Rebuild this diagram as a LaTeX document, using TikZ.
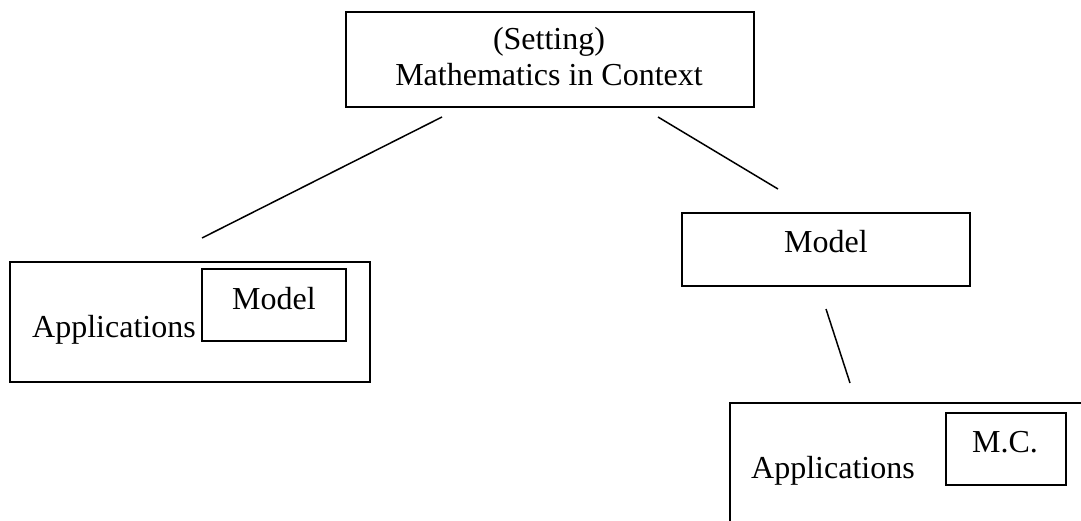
\documentclass[tikz,border=0pt]{standalone}
\usepackage{fontspec}
\setmainfont{Liberation Serif}
\begin{document}
\begin{tikzpicture}[x=1pt,y=-1pt,
  boxline/.style={draw=black,line width=1.6pt},
  conn/.style={draw=black,line width=1.5pt},
  lbl/.style={inner sep=0pt,anchor=base,font=\fontsize{32}{36}\selectfont}]
\useasboundingbox (0,0) rectangle (1081,521);
\clip (0,0) rectangle (1081,521);
% boxes
\draw[boxline] (346,12) rectangle (754,107);
\draw[boxline] (10,262) rectangle (370,382);
\draw[boxline] (202,269) rectangle (346,341);
\draw[boxline] (682,213) rectangle (970,286);
\draw[boxline] (730,403) rectangle (1100,560);
\draw[boxline] (946,413) rectangle (1066,485);
% labels
\node[lbl] (setting) at (549,50) {(Setting)};
\node[lbl] (mic) at (549,86) {Mathematics in Context};
\node[lbl,anchor=base west] (app1) at (32,337) {Applications};
\node[lbl] (model1) at (274,309) {Model};
\node[lbl] (model2) at (826,253) {Model};
\node[lbl,anchor=base west] (app2) at (751,478) {Applications};
\node[lbl] (mc) at (1005,452) {M.C.};
% connector ends
\coordinate (l1a) at (442,117);
\coordinate (l1b) at (202,238);
\coordinate (l2a) at (658,117);
\coordinate (l2b) at (778,189);
\coordinate (l3a) at (826,309);
\coordinate (l3b) at (850,383);
\draw[conn] (l1a) -- (l1b);
\draw[conn] (l2a) -- (l2b);
\draw[conn] (l3a) -- (l3b);
\end{tikzpicture}
\end{document}
